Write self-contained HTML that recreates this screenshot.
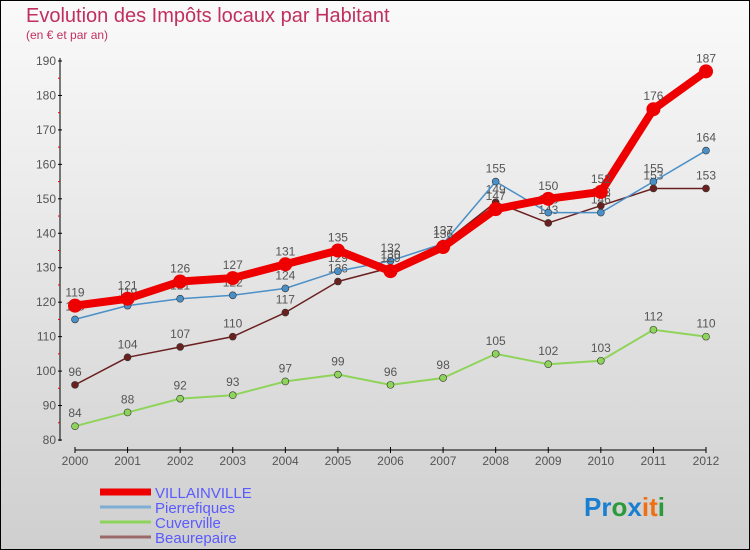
<!DOCTYPE html>
<html><head><meta charset="utf-8"><style>
body{margin:0}
#c{width:750px;height:550px;position:relative;overflow:hidden;border:none;box-sizing:border-box;background:linear-gradient(#fafafa,#cfcfcf);font-family:"Liberation Sans",sans-serif}
</style></head><body>
<div id="c">
<svg id="s" width="750" height="550" style="position:absolute;left:0;top:0"></svg>
</div>
<script>
const years=["2000","2001","2002","2003","2004","2005","2006","2007","2008","2009","2010","2011","2012"];
const villainville=[119,121,126,127,131,135,129,136,147,150,152,176,187];
const pierrefiques=[115,119,121,122,124,129,132,137,155,146,146,155,164];
const cuverville=[84,88,92,93,97,99,96,98,105,102,103,112,110];
const beaurepaire=[96,104,107,110,117,126,130,137,149,143,148,153,153];
const yTicks=[80,90,100,110,120,130,140,150,160,170,180,190];
const NS="http://www.w3.org/2000/svg";
const s=document.getElementById('s');
const X=i=>75+i*(706-75)/12;
const Y=v=>440-(v-80)*(440-61)/110;
function el(t,a,txt){const e=document.createElementNS(NS,t);for(const k in a)e.setAttribute(k,a[k]);if(txt!==undefined)e.textContent=txt;s.appendChild(e);return e;}
let e;
e=el('rect',{x:0.5,y:0.5,width:749,height:549,fill:'none',stroke:'#000'});


e=el('text',{x:26,y:22,'font-size':20,fill:'#c0305e'},'Evolution des Impôts locaux par Habitant');


e=el('text',{x:26,y:39,'font-size':12,fill:'#c0305e'},'(en € et par an)');


e=el('line',{x1:60,y1:58,x2:60,y2:441,stroke:'#000','stroke-width':1});


yTicks.forEach(v=>{
 const t=el('line',{x1:58,y1:Y(v),x2:62,y2:Y(v),stroke:'#000'});
 
 
 const l=el('text',{x:56,y:Y(v)+4,'font-size':12,fill:'#555','text-anchor':'end'},v);
 
 
 if(v<190){const m=el('line',{x1:58,y1:Y(v+5),x2:60,y2:Y(v+5),stroke:'#e00'});
 
 }
});
e=el('line',{x1:75,y1:450,x2:706,y2:450,stroke:'#000'});


years.forEach((y,i)=>{
 const t=el('line',{x1:X(i),y1:447,x2:X(i),y2:453,stroke:'#000'});
 
 
 const l=el('text',{x:X(i),y:465,'font-size':12,fill:'#555','text-anchor':'middle'},y);
 
 
});
function series(d,col,w,r,name){
 const p=el('polyline',{points:d.map((v,i)=>X(i)+','+Y(v)).join(' '),fill:'none',stroke:col,'stroke-width':w,'stroke-linejoin':'round'});
 
 
 d.forEach((v,i)=>{
  const c=el('circle',{cx:X(i),cy:Y(v),r:r,fill:col,stroke:'#333','stroke-width':r>5?0:0.6});
  
  
  const t=el('text',{x:X(i),y:Y(v)-9,'font-size':12,fill:'#555','text-anchor':'middle'},v);
  
  
 });
}
series(cuverville,'#8fd45a',2,3.5,'cuverville');
series(beaurepaire,'#6b2020',1.5,3.5,'beaurepaire');
series(pierrefiques,'#4a90c8',1.5,3.5,'pierrefiques');
series(villainville,'#ee0000',8,7,'villainville');
const leg=[['VILLAINVILLE','#ee0000',7],['Pierrefiques','#7eaed4',3],['Cuverville','#8fd45a',3],['Beaurepaire','#9a6a6a',3]];
leg.forEach((g,i)=>{
 const y=492+i*15;
 const l=el('line',{x1:100,y1:y,x2:151,y2:y,stroke:g[1],'stroke-width':g[2]});
 
 
 const t=el('text',{x:155,y:y+6,'font-size':15,fill:'#5a5aff'},g[0]);
 
 
});
const logo=[['P','#1a7fd0'],['r','#1a7fd0'],['o','#2a9a3a'],['x','#1a7fd0'],['i','#ee7010'],['t','#ee7010'],['i','#2a9a3a']];
const lg=el('text',{x:584,y:516,'font-size':26,'font-weight':'bold'});


logo.forEach(([c,col])=>{const ts=document.createElementNS(NS,'tspan');ts.setAttribute('fill',col);ts.textContent=c;lg.appendChild(ts);});
</script>
</body></html>
